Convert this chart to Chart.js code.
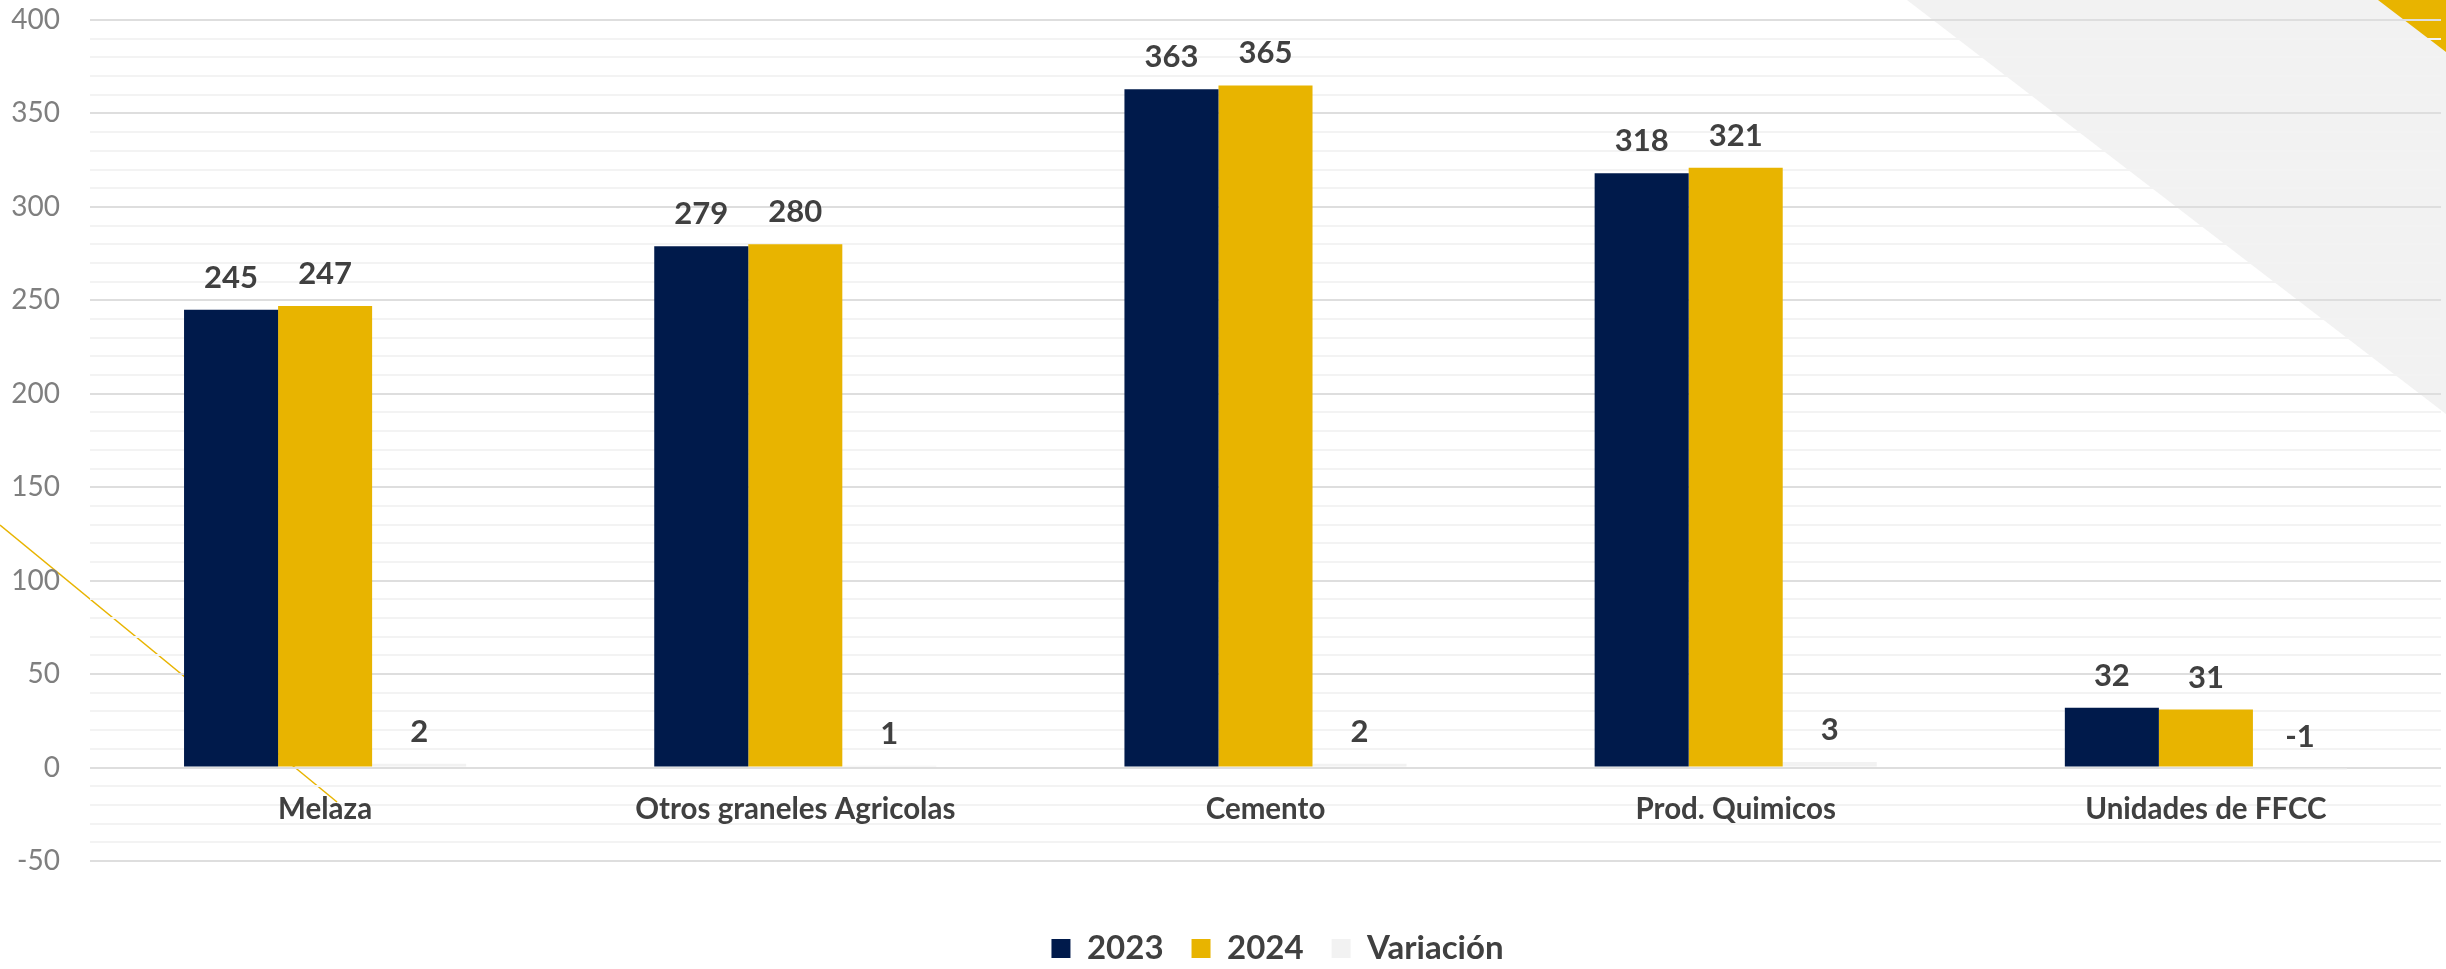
<!DOCTYPE html>
<html>
<head>
<meta charset="utf-8">
<script src="https://cdn.jsdelivr.net/npm/chart.js@4/dist/chart.umd.min.js"></script>
<style>
  html, body { margin: 0; padding: 0; background: #ffffff; }
  #wrap { width: 2446px; height: 969px; position: relative; }
</style>
</head>
<body>
<div id="wrap"><canvas id="c" width="2446" height="969"></canvas></div>
<script>
const categories = ['Melaza', 'Otros graneles Agricolas', 'Cemento', 'Prod. Quimicos', 'Unidades de FFCC'];
const values2023 = [245, 279, 363, 318, 32];
const values2024 = [247, 280, 365, 321, 31];
const valuesVariacion = [2, 1, 2, 3, -1];
const seriesNames = ['2023', '2024', 'Variación'];
const yMin = -50, yMax = 400, yMinorStep = 10, yMajorStep = 50;

const NAVY = '#001a4b', GOLD = '#e8b400', LIGHT = '#f2f2f2', TEXT = '#404040', AXIS = '#7f7f7f';
const FONT = 'Lato, "Open Sans", sans-serif';

const decorPlugin = {
  id: 'decor',
  afterLayout(chart) {
    if (chart.legend) { chart.legend.left += 12; chart.legend.right += 12; }
  },
  beforeDraw(chart) {
    const ctx = chart.ctx, W = chart.width;
    ctx.save();
    ctx.fillStyle = '#ffffff';
    ctx.fillRect(0, 0, W, chart.height);
    ctx.fillStyle = '#f2f2f2';
    ctx.beginPath();
    ctx.moveTo(1907, 0); ctx.lineTo(W, 0); ctx.lineTo(W, 414); ctx.closePath();
    ctx.fill();
    ctx.fillStyle = GOLD;
    ctx.beginPath();
    ctx.moveTo(2378, 0); ctx.lineTo(W, 0); ctx.lineTo(W, 52); ctx.closePath();
    ctx.fill();
    ctx.strokeStyle = GOLD;
    ctx.lineWidth = 1.5;
    ctx.beginPath();
    ctx.moveTo(0, 525); ctx.lineTo(337, 802);
    ctx.stroke();
    ctx.restore();
  }
};

const labelPlugin = {
  id: 'valueLabels',
  afterDatasetsDraw(chart) {
    const ctx = chart.ctx;
    ctx.save();
    ctx.font = 'bold 31px ' + FONT;
    ctx.fillStyle = TEXT;
    ctx.textAlign = 'center';
    ctx.textBaseline = 'middle';
    chart.data.datasets.forEach((ds, di) => {
      const meta = chart.getDatasetMeta(di);
      meta.data.forEach((el, i) => {
        const top = Math.min(el.y, el.base);
        ctx.fillText(String(ds.data[i]), el.x, top - 32);
      });
    });
    ctx.restore();
  }
};

new Chart(document.getElementById('c'), {
  type: 'bar',
  data: {
    labels: categories,
    datasets: [
      { label: seriesNames[0], data: values2023, backgroundColor: NAVY },
      { label: seriesNames[1], data: values2024, backgroundColor: GOLD },
      { label: seriesNames[2], data: valuesVariacion, backgroundColor: LIGHT }
    ]
  },
  options: {
    responsive: false,
    animation: false,
    devicePixelRatio: 1,
    layout: { padding: { top: 20, right: 5, bottom: -6, left: 0 } },
    datasets: { bar: { barPercentage: 1.0, categoryPercentage: 0.6 } },
    plugins: {
      legend: {
        position: 'bottom',
        fullSize: false,
        title: { display: true, text: '', font: { size: 10, lineHeight: 1 }, padding: { top: 33, bottom: 0 } },
        labels: {
          boxWidth: 19, boxHeight: 19, padding: 28,
          color: TEXT,
          font: { family: FONT, size: 33, weight: 'bold' }
        }
      },
      tooltip: { enabled: false }
    },
    scales: {
      x: {
        type: 'category',
        position: { y: 0 },
        grid: { display: false, drawTicks: false },
        border: { display: false },
        ticks: {
          color: TEXT, padding: 24, maxRotation: 0, autoSkip: false,
          font: { family: FONT, size: 29.5, weight: 'bold' }
        }
      },
      y: {
        min: yMin, max: yMax,
        afterFit(scale) { scale.width = 90; },
        border: { display: false },
        grid: {
          drawTicks: true,
          tickLength: 30,
          tickColor: 'rgba(0,0,0,0)',
          lineWidth: 2,
          color: (c) => (c.tick && c.tick.value % yMajorStep === 0) ? '#dedede' : '#f3f3f3'
        },
        ticks: {
          stepSize: yMinorStep,
          autoSkip: false,
          padding: 0,
          color: AXIS,
          font: { family: FONT, size: 28 },
          callback: (v) => (v % yMajorStep === 0 ? String(v) : '')
        }
      }
    }
  },
  plugins: [decorPlugin, labelPlugin]
});
</script>
</body>
</html>
